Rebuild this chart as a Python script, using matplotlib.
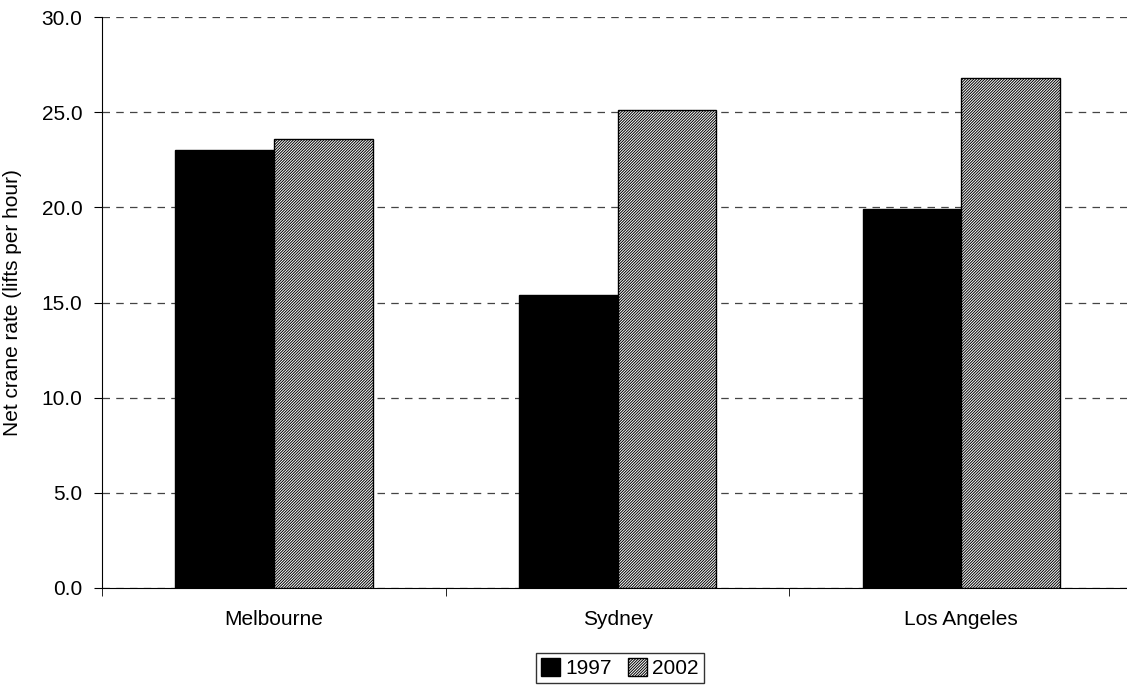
import matplotlib
matplotlib.use("Agg")
import matplotlib.pyplot as plt
import numpy as np

# values
cities = ["Melbourne", "Sydney", "Los Angeles"]
rate_1997 = [23.0, 15.4, 19.9]
rate_2002 = [23.6, 25.1, 26.8]
y_ticks = [0, 5, 10, 15, 20, 25, 30]

plt.rcParams["font.family"] = ["Liberation Sans", "DejaVu Sans"]
plt.rcParams["hatch.linewidth"] = 0.7

fig = plt.figure(figsize=(11.27, 6.86), dpi=100)
ax = fig.add_axes([0.0905, 0.143, 0.915, 0.832])

x = np.arange(len(cities))
w = 0.287
ax.bar(x - w / 2, rate_1997, w, color="black", edgecolor="black", linewidth=1, label="1997", zorder=3)
ax.bar(x + w / 2, rate_2002, w, color="white", edgecolor="black", hatch="////////////", linewidth=1, label="2002", zorder=3)

ax.set_xlim(-0.5, len(cities) - 0.5)
ax.set_ylim(0, 30)
ax.set_yticks(y_ticks)
ax.set_yticklabels([f"{v:.1f}" for v in y_ticks], fontsize=15)
ax.set_xticks(x)
ax.set_xticklabels(cities, fontsize=15)
ax.tick_params(axis="x", length=0, pad=16)
ax.set_xticks(np.arange(-0.5, len(cities)), minor=True)
ax.tick_params(axis="x", which="minor", length=6, direction="out")
ax.tick_params(axis="y", length=6, direction="out", pad=8)
ax.yaxis.grid(True, linestyle=(0, (6, 5)), color="#444444", linewidth=0.9, zorder=0)
ax.set_ylabel("Net crane rate (lifts per hour)", fontsize=15, labelpad=14)

for s in ["top", "right"]:
    ax.spines[s].set_visible(False)

fig.legend(loc="center", bbox_to_anchor=(0.55, 0.026), ncol=2, fontsize=15,
           frameon=True, fancybox=False, edgecolor="black", handlelength=0.9,
           handleheight=0.9, handletextpad=0.25, columnspacing=0.8, borderpad=0.25,
           borderaxespad=0)

fig.savefig("out.png", dpi=100)
